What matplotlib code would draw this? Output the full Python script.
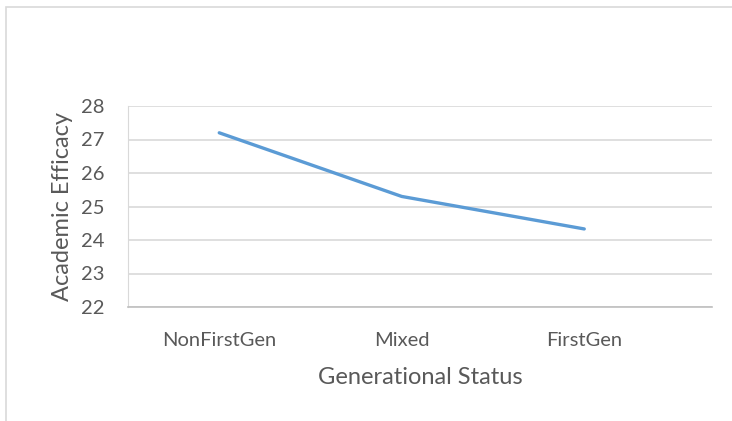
import matplotlib.pyplot as plt
from matplotlib.patches import Rectangle

plt.rcParams['font.family'] = ['Lato', 'DejaVu Sans']

groups = ['NonFirstGen', 'Mixed', 'FirstGen']
efficacy = [27.2, 25.3, 24.33]
yticks = [22, 23, 24, 25, 26, 27, 28]

txt = '#595959'
grid = '#d9d9d9'

fig = plt.figure(figsize=(7.32, 4.21), dpi=100)
# outer chart border (light gray, runs off right/bottom edge)
fig.patches.append(Rectangle((6 / 732, -0.1), 1.2, 1.1 - 7 / 421,
                             transform=fig.transFigure, fill=False,
                             edgecolor=grid, linewidth=1.2))

ax = fig.add_axes([128 / 732, 1 - 307 / 421, (712 - 128) / 732, (307 - 106) / 421])
x = list(range(len(groups)))
ax.plot(x, efficacy, color='#5b9bd5', linewidth=2.4, solid_capstyle='round')

ax.set_xlim(-0.5, 2.7)
ax.set_ylim(22, 28)
ax.set_yticks(yticks)
ax.set_xticks(x)
ax.set_xticklabels(groups)
ax.yaxis.grid(True, color=grid, linewidth=1.2)
ax.set_axisbelow(True)

for s in ['top', 'right']:
    ax.spines[s].set_visible(False)
ax.spines['left'].set_color(grid)
ax.spines['bottom'].set_color('#bfbfbf')
ax.spines['bottom'].set_linewidth(1.2)

ax.tick_params(axis='both', length=0, colors=txt, labelsize=14.5)
ax.tick_params(axis='x', pad=18)
ax.tick_params(axis='y', pad=17)

ax.set_xlabel('Generational Status', color=txt, fontsize=17, labelpad=13)
ax.set_ylabel('Academic Efficacy', color=txt, fontsize=17, labelpad=6)

fig.savefig('out.png', dpi=100)
